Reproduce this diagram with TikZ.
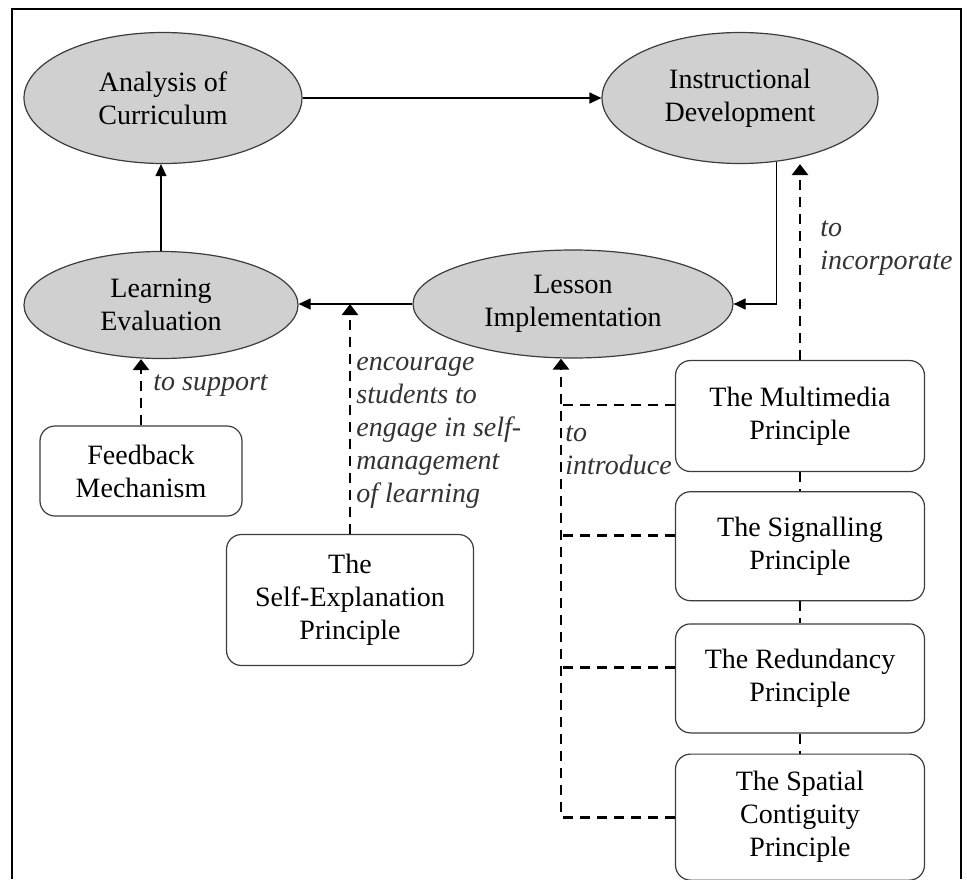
\documentclass[tikz,border=0pt]{standalone}
\usepackage{fontspec}
\setmainfont{Liberation Serif}
\usetikzlibrary{arrows.meta,shapes.geometric,positioning,calc}
\definecolor{ovalgray}{RGB}{208,208,208}
\definecolor{edgegray}{RGB}{60,60,60}
\tikzset{
  stage/.style={ellipse, draw=edgegray, line width=1.2pt, fill=ovalgray, inner sep=0pt, align=center},
  principle/.style={draw=edgegray, line width=1.2pt, rounded corners=15pt, minimum width=249pt,
    minimum height=109pt, inner sep=0pt, align=center},
  flow/.style={line width=1.2pt, -{Triangle[length=12pt,width=11pt]}},
  support/.style={line width=2.8pt, dash pattern=on 10pt off 7pt, -{Triangle[length=11pt,width=16pt]}},
  link/.style={line width=2.8pt, dash pattern=on 10pt off 7pt},
  why/.style={font=\fontsize{28}{33}\selectfont\itshape, text=black!80, align=left, inner sep=5pt}
}

\begin{document}
\begin{tikzpicture}[x=1pt, y=-1pt, font=\fontsize{28}{33}\selectfont]
  \useasboundingbox (0,0) rectangle (967,879);
  \draw[line width=2pt] (12,879) |- (961,9) -- (961,879);

  \node[stage, minimum width=278pt, minimum height=131pt] (ac) at (163,98) {Analysis of\\Curriculum};
  \node[stage, minimum width=276pt, minimum height=131pt] (id) at (740,98) {Instructional\\Development};
  \node[stage, minimum width=274pt, minimum height=107pt] (le) at (161,305) {Learning\\Evaluation};
  \node[stage, minimum width=320pt, minimum height=108pt] (li) at (573,304) {Lesson\\Implementation};
  \node[principle, minimum width=202pt, minimum height=90pt] (fb) at (141,471) {Feedback\\Mechanism};
  \node[principle, minimum width=247pt, minimum height=131pt] (se) at (350,600) {The\\Self-Explanation\\Principle};
  \node[principle, minimum height=111pt] (mm) at (800,416) {The Multimedia\\Principle};
  \node[principle, below=19pt of mm] (sg) {The Signalling\\Principle};
  \node[principle, below=22pt of sg] (rd) {The Redundancy\\Principle};
  \node[principle, below=20pt of rd, minimum height=126pt] (sc) {The Spatial\\Contiguity\\Principle};
  \coordinate (br) at (561,0);

  \draw[flow] (ac.east) -- (id.west);
  \draw[flow] (le.north) -- (le.north |- ac.south);
  \draw[flow] (id.300) |- (li.east);
  \draw[flow] (li.west) -- (li.west -| le.east);

  \draw[support] (fb.north) -- (fb.north |- le.south)
    node[pos=0.6, right, why, xshift=6pt] {to support};
  \draw[support] (se.north) -- (se.north |- li.west)
    node[pos=0.44, right, why] {encourage\\students to\\engage in self-\\management\\of learning};
  \draw[support] (mm.north) -- (mm.north |- id.south)
    node[pos=0.57, right, why, xshift=14pt] {to\\incorporate};

  \draw[link] (mm.south) -- (sg.north);
  \draw[link] (sg.south) -- (rd.north);
  \draw[link] (rd.south) -- (sc.north);

  \draw[link] ([yshift=11pt]mm.west) -- ([yshift=11pt]mm.west -| br);
  \draw[link] ([yshift=11pt]sg.west) -- ([yshift=11pt]sg.west -| br);
  \draw[link] ([yshift=11pt]rd.west) -- ([yshift=11pt]rd.west -| br);
  \draw[support] (sc.west) -| (li.south -| br)
    node[pos=0.9, right, why, inner sep=3pt] {to\\introduce};
\end{tikzpicture}
\end{document}
